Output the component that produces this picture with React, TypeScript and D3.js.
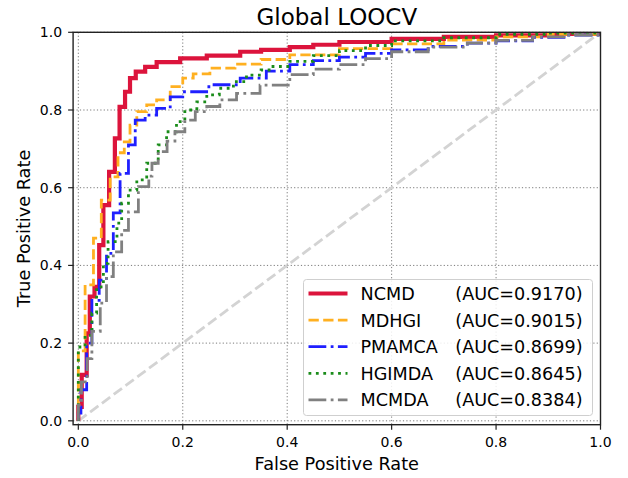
import React from "react";
import * as d3 from "d3";

const methods = ["NCMD", "MDHGI", "PMAMCA", "HGIMDA", "MCMDA"];
const aucLabels = ["(AUC=0.9170)", "(AUC=0.9015)", "(AUC=0.8699)", "(AUC=0.8645)", "(AUC=0.8384)"];
const ticks = [0, 0.2, 0.4, 0.6, 0.8, 1.0];

// ROC vertices: each point is (fpr, tpr) at the top of a vertical step
const ncmdFpr = [0, 0, 0.0065, 0.016, 0.022, 0.031, 0.04, 0.048, 0.059, 0.07, 0.079, 0.0895, 0.099, 0.11, 0.128, 0.15, 0.195, 0.246, 0.31, 0.35, 0.405, 0.45, 0.5, 0.6, 0.7, 0.8, 0.9, 1];
const ncmdTpr = [0, 0.036, 0.118, 0.225, 0.32, 0.345, 0.452, 0.555, 0.641, 0.727, 0.808, 0.847, 0.882, 0.899, 0.911, 0.923, 0.933, 0.94, 0.95, 0.955, 0.962, 0.968, 0.975, 0.983, 0.988, 0.992, 0.996, 1];

const mdhgiFpr = [0, 0, 0.013, 0.029, 0.044, 0.061, 0.076, 0.088, 0.099, 0.112, 0.131, 0.15, 0.176, 0.2, 0.22, 0.252, 0.3, 0.35, 0.405, 0.5, 0.6, 0.7, 0.8, 0.9, 1];
const mdhgiTpr = [0, 0.18, 0.35, 0.47, 0.568, 0.628, 0.69, 0.718, 0.761, 0.796, 0.813, 0.826, 0.86, 0.882, 0.893, 0.908, 0.918, 0.93, 0.942, 0.958, 0.97, 0.98, 0.988, 0.995, 1];

const pmamcaFpr = [0, 0, 0.005, 0.016, 0.026, 0.04, 0.054, 0.067, 0.08, 0.096, 0.109, 0.128, 0.15, 0.176, 0.2, 0.25, 0.31, 0.36, 0.405, 0.45, 0.5, 0.55, 0.6, 0.67, 0.745, 0.8, 0.87, 0.93, 1];
const pmamcaTpr = [0, 0.02, 0.08, 0.2, 0.31, 0.362, 0.431, 0.535, 0.637, 0.71, 0.774, 0.787, 0.804, 0.834, 0.847, 0.865, 0.882, 0.9, 0.917, 0.927, 0.936, 0.946, 0.955, 0.964, 0.972, 0.978, 0.987, 0.993, 1];

const hgimdaFpr = [0, 0, 0.013, 0.026, 0.035, 0.048, 0.057, 0.074, 0.083, 0.096, 0.112, 0.131, 0.153, 0.169, 0.188, 0.204, 0.227, 0.246, 0.27, 0.297, 0.322, 0.35, 0.37, 0.405, 0.45, 0.5, 0.55, 0.6, 0.7, 0.8, 0.9, 1];
const hgimdaTpr = [0, 0.19, 0.22, 0.277, 0.345, 0.405, 0.461, 0.509, 0.56, 0.594, 0.62, 0.663, 0.71, 0.744, 0.77, 0.8, 0.821, 0.839, 0.856, 0.873, 0.89, 0.903, 0.912, 0.925, 0.94, 0.953, 0.966, 0.978, 0.986, 0.995, 0.998, 1];

const mcmdaFpr = [0, 0, 0.006, 0.017, 0.026, 0.042, 0.054, 0.067, 0.083, 0.096, 0.115, 0.135, 0.141, 0.153, 0.17, 0.185, 0.204, 0.224, 0.246, 0.271, 0.303, 0.348, 0.405, 0.45, 0.5, 0.55, 0.6, 0.67, 0.745, 0.8, 0.87, 0.93, 1];
const mcmdaTpr = [0, 0.04, 0.1, 0.16, 0.23, 0.303, 0.371, 0.435, 0.49, 0.538, 0.603, 0.63, 0.663, 0.693, 0.72, 0.744, 0.774, 0.796, 0.809, 0.826, 0.843, 0.864, 0.891, 0.905, 0.917, 0.932, 0.95, 0.962, 0.972, 0.979, 0.988, 0.993, 1];

const curves = [
  { fpr: ncmdFpr, tpr: ncmdTpr },
  { fpr: mdhgiFpr, tpr: mdhgiTpr },
  { fpr: pmamcaFpr, tpr: pmamcaTpr },
  { fpr: hgimdaFpr, tpr: hgimdaTpr },
  { fpr: mcmdaFpr, tpr: mcmdaTpr },
];

const styles = [
  { color: "#dc143c", width: 4.2, dash: "none" },
  { color: "#ffb020", width: 2.8, dash: "10.3,4.4" },
  { color: "#1f1fff", width: 2.8, dash: "17.8,4.4,2.8,4.4" },
  { color: "#1a8c1a", width: 2.8, dash: "2.8,4.6" },
  { color: "#808080", width: 2.8, dash: "17.8,4.4,2.8,4.4" },
];

const font = "DejaVu Sans, sans-serif";

export default function App() {
  const width = 628;
  const height = 478;
  const left = 73.1, right = 600.5, top = 32.3, bottom = 424.7;

  const x = d3.scaleLinear().domain([-0.01, 1.0]).range([left, right]);
  const y = d3.scaleLinear().domain([-0.01, 1.0]).range([bottom, top]);

  const line = d3
    .line<[number, number]>()
    .x((d) => x(d[0]))
    .y((d) => y(d[1]))
    .curve(d3.curveStepAfter);

  const legX = 303.5, legY = 279.5, legW = 289, legH = 136;
  const rowH = 26.6;

  return (
    <div style={{ position: "absolute", left: 0, top: 0 }}>
      <svg width={width} height={height} style={{ display: "block", background: "#fff" }}>
        <defs>
          <clipPath id="plot">
            <rect x={left} y={top} width={right - left} height={bottom - top} />
          </clipPath>
        </defs>
        {/* grid */}
        {ticks.map((t) => (
          <g key={"g" + t}>
            <line x1={x(t)} x2={x(t)} y1={top} y2={bottom} stroke="#7a7a7a" strokeWidth={1} strokeDasharray="1.2,2.2" />
            <line x1={left} x2={right} y1={y(t)} y2={y(t)} stroke="#7a7a7a" strokeWidth={1} strokeDasharray="1.2,2.2" />
          </g>
        ))}
        <g clipPath="url(#plot)">
          <line x1={x(0)} y1={y(0)} x2={x(1)} y2={y(1)} stroke="#d3d3d3" strokeWidth={2.8} strokeDasharray="10.3,4.4" />
          {curves.map((c, i) => (
            <path
              key={methods[i]}
              d={line(c.fpr.map((f, j) => [f, c.tpr[j]] as [number, number])) || ""}
              fill="none"
              stroke={styles[i].color}
              strokeWidth={styles[i].width}
              strokeDasharray={styles[i].dash}
            />
          ))}
        </g>
        {/* spines */}
        <rect x={left} y={top} width={right - left} height={bottom - top} fill="none" stroke="#222" strokeWidth={1.4} />
        {/* ticks */}
        {ticks.map((t) => (
          <g key={"t" + t} fontFamily={font} fontSize={14} fill="#000">
            <line x1={x(t)} x2={x(t)} y1={bottom} y2={bottom + 5} stroke="#222" strokeWidth={1.2} />
            <text x={x(t)} y={447} textAnchor="middle">{t.toFixed(1)}</text>
            <line x1={left} x2={left - 5} y1={y(t)} y2={y(t)} stroke="#222" strokeWidth={1.2} />
            <text x={left - 11} y={y(t) + 5} textAnchor="end">{t.toFixed(1)}</text>
          </g>
        ))}
        <text x={(left + right) / 2} y={25} textAnchor="middle" fontFamily={font} fontSize={23}>Global LOOCV</text>
        <text x={(left + right) / 2} y={470} textAnchor="middle" fontFamily={font} fontSize={17.7}>False Positive Rate</text>
        <text transform={`translate(30,${(top + bottom) / 2}) rotate(-90)`} textAnchor="middle" fontFamily={font} fontSize={17.7}>True Positive Rate</text>
        {/* legend */}
        <rect x={legX} y={legY} width={legW} height={legH} rx={3} fill="#fff" fillOpacity={0.85} stroke="#cfcfcf" strokeWidth={1} />
        {methods.map((m, i) => {
          const cy = legY + 14 + rowH * i;
          return (
            <g key={"l" + m} fontFamily={font} fontSize={17.6}>
              <line x1={legX + 5} x2={legX + 44} y1={cy} y2={cy} stroke={styles[i].color} strokeWidth={styles[i].width} strokeDasharray={styles[i].dash} />
              <text x={legX + 57} y={cy + 6.5}>{m}</text>
              <text x={legX + 279} y={cy + 6.5} textAnchor="end">{aucLabels[i]}</text>
            </g>
          );
        })}
      </svg>
    </div>
  );
}
